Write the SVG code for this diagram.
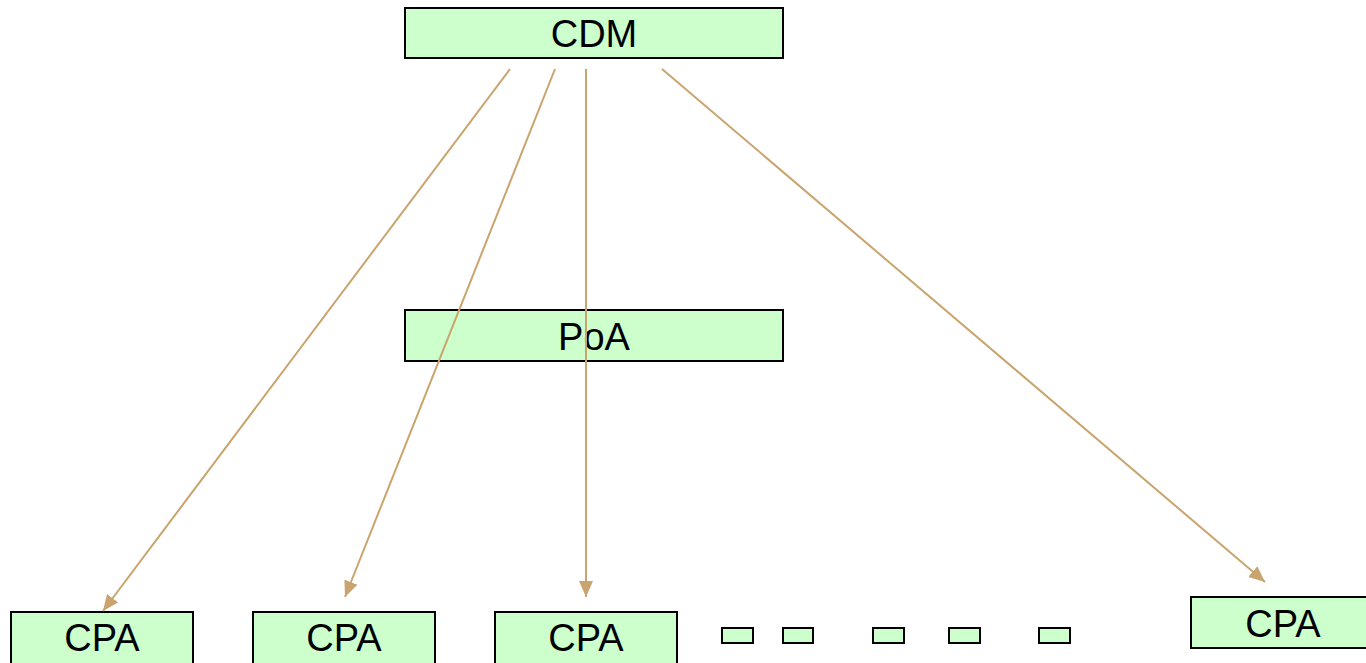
<svg xmlns="http://www.w3.org/2000/svg" width="1366" height="663" viewBox="0 0 1366 663">
<style>
.box{fill:#CCFFCC;stroke:#000;stroke-width:2}
.lbl{font-family:"Liberation Sans",Arial,sans-serif;font-size:38px;fill:#000;text-anchor:middle}
.edge{stroke:#C9A46E;stroke-width:2;fill:none;marker-end:url(#ah)}
</style>
<defs>
<marker id="ah" markerUnits="userSpaceOnUse" markerWidth="16" markerHeight="14" refX="16" refY="7" orient="auto">
<path d="M0,0 L16,7 L0,14 Z" fill="#C9A46E"/>
</marker>
</defs>
<rect width="1366" height="663" fill="#fff"/>
<g id="cdm"><rect class="box" x="405" y="8" width="378" height="50"/><text class="lbl" x="594" y="47">CDM</text></g>
<g id="poa"><rect class="box" x="405" y="310" width="378" height="51"/><text class="lbl" x="594" y="350">PoA</text></g>
<g id="cpa1"><rect class="box" x="11" y="612" width="182" height="52"/><text class="lbl" x="102" y="651">CPA</text></g>
<g id="cpa2"><rect class="box" x="253" y="612" width="182" height="52"/><text class="lbl" x="344" y="651">CPA</text></g>
<g id="cpa3"><rect class="box" x="495" y="612" width="182" height="52"/><text class="lbl" x="586" y="651">CPA</text></g>
<g id="cpa4"><rect class="box" x="1191" y="597" width="176" height="51"/><text class="lbl" x="1283" y="637">CPA</text></g>
<g id="dots">
<rect class="box" x="722" y="628" width="31" height="15"/>
<rect class="box" x="783" y="628" width="30" height="15"/>
<rect class="box" x="873" y="628" width="31" height="15"/>
<rect class="box" x="949" y="628" width="31" height="15"/>
<rect class="box" x="1039" y="628" width="31" height="15"/>
</g>
<g id="connectors">
<line class="edge" x1="510" y1="69" x2="103" y2="611"/>
<line class="edge" x1="555" y1="69" x2="345" y2="597"/>
<line class="edge" x1="586" y1="69" x2="586" y2="597"/>
<line class="edge" x1="662" y1="69" x2="1265" y2="582"/>
</g>
</svg>
